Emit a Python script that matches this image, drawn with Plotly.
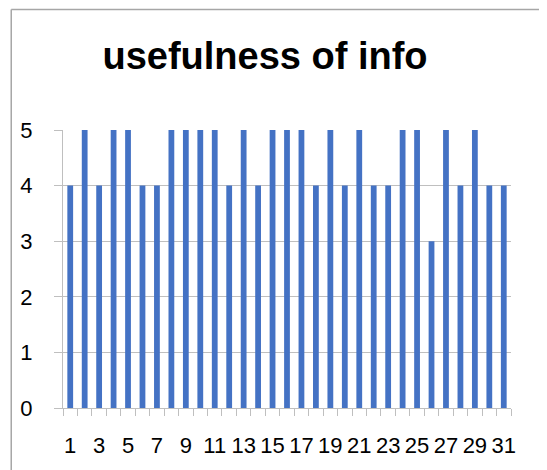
import plotly.graph_objects as go

days = list(range(1, 32))
ratings = [4, 5, 4, 5, 5, 4, 4, 5, 5, 5, 5, 4, 5, 4, 5, 5, 5, 4, 5, 4, 5, 4, 4, 5, 5, 3, 5, 4, 5, 4, 4]
x_tick_labels = [str(d) for d in days if d % 2 == 1]
y_ticks = [0, 1, 2, 3, 4, 5]

grid = "#bfbfbf"
font_family = "Liberation Sans, Arial, sans-serif"

fig = go.Figure(go.Bar(x=days, y=ratings, width=0.4, marker=dict(color="#4472C4", line=dict(width=0))))

OFF = 8  # browser body margin
W, H = 547 - OFF, 470 - OFF
L, R, T, B = 61 - OFF, 36, 130 - OFF, 470 - 409
pw = W - L - R
ph = H - T - B

# chart border (left and top visible), placed at the edge of the figure svg
bx = (1 - L) / pw
by = 1 + (T - 1) / ph

fig.update_layout(
    width=W, height=H,
    margin=dict(l=L, r=R, t=T, b=B, pad=0),
    paper_bgcolor="white", plot_bgcolor="white",
    showlegend=False,
    title=dict(text="<b>usefulness of info</b>", x=(265 - OFF) / W, xanchor="center",
               y=1 - (56 - OFF) / H, yanchor="middle",
               font=dict(family=font_family, size=38, color="black")),
    font=dict(family=font_family, size=22, color="black"),
    xaxis=dict(
        range=[0.5, 31.5], tickvals=[d for d in days if d % 2 == 1], ticktext=x_tick_labels,
        ticks="", showgrid=False, showline=True, linecolor=grid, linewidth=1,
        tickfont=dict(size=22), zeroline=False, ticklabelstandoff=18,
        minor=dict(tickvals=[d + 0.5 for d in range(0, 32)], ticks="outside", ticklen=7,
                   tickcolor=grid, tickwidth=1, showgrid=False),
    ),
    yaxis=dict(
        range=[0, 5], tickvals=y_ticks, showgrid=True, gridcolor=grid, gridwidth=1,
        ticks="outside", ticklen=8, tickcolor=grid, showline=True, linecolor=grid,
        zeroline=False, tickfont=dict(size=22), ticklabelstandoff=17,
    ),
    shapes=[
        dict(type="line", xref="paper", yref="paper",
             x0=bx, x1=bx, y0=-1, y1=by,
             line=dict(color="#a6a6a6", width=1.5), layer="above"),
        dict(type="line", xref="paper", yref="paper",
             x0=bx, x1=2, y0=by, y1=by,
             line=dict(color="#a6a6a6", width=1.5), layer="above"),
    ],
)

fig.write_html("out.html")
